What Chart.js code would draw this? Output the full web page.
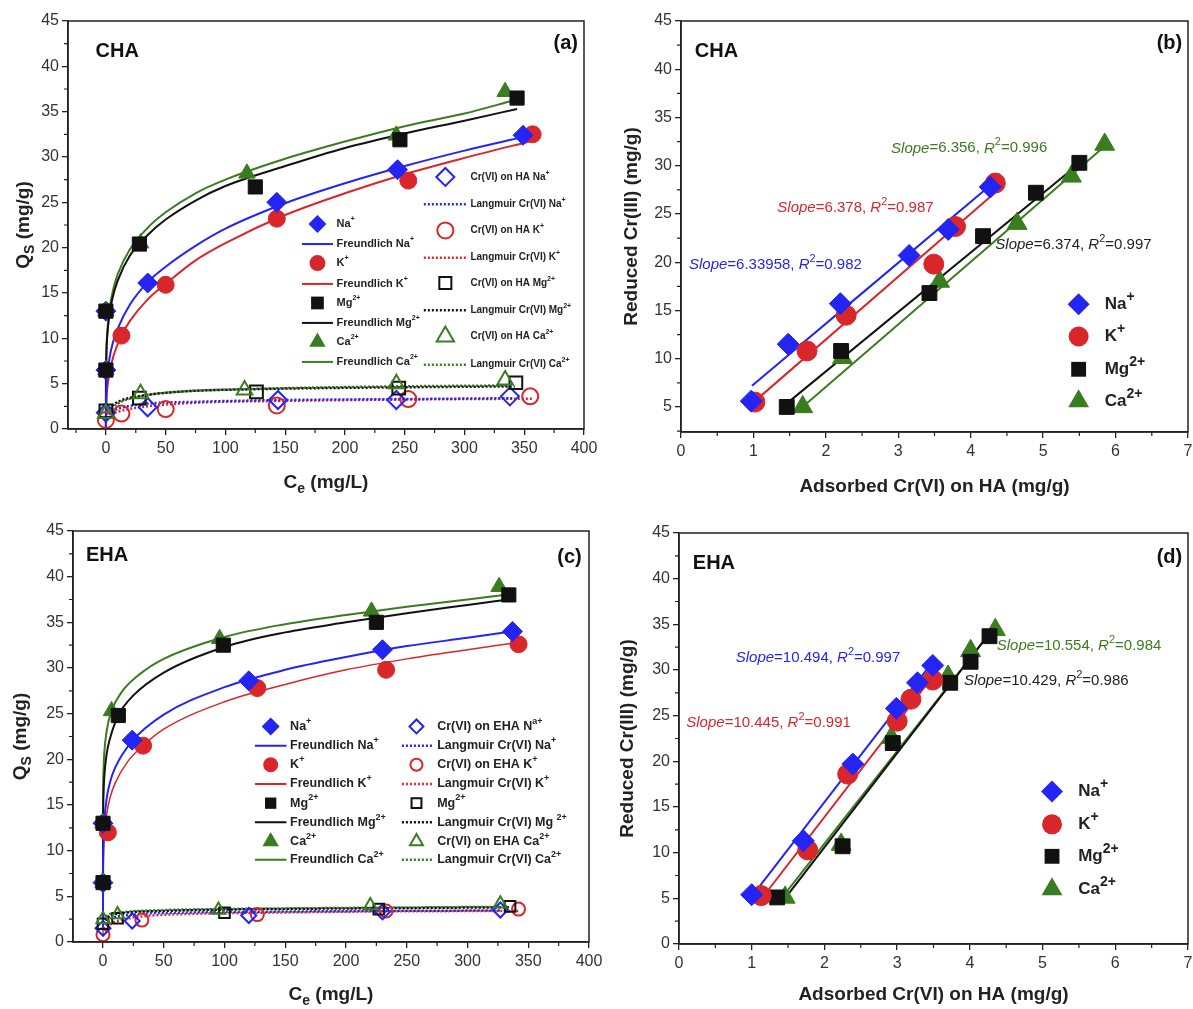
<!DOCTYPE html>
<html>
<head>
<meta charset="utf-8">
<script src="https://cdn.jsdelivr.net/npm/chart.js@4.4.0/dist/chart.umd.min.js"></script>
<style>
  body { margin: 0; background: #fff; }
  #wrap { position: relative; width: 1193px; height: 1009px; background: #fff; overflow: hidden; }
  canvas { position: absolute; }
</style>
</head>
<body>
<div id="wrap">
  <canvas id="cA" width="612" height="505" style="left:0;top:0"></canvas>
  <canvas id="cB" width="597" height="505" style="left:596px;top:0"></canvas>
  <canvas id="cC" width="612" height="504" style="left:0;top:505px"></canvas>
  <canvas id="cD" width="597" height="504" style="left:596px;top:505px"></canvas>
</div>
<script>
// ---------- data: panel (a) CHA isotherms ----------
const aNaCe = [0, 0, 35, 143, 244, 349],   aNaQs = [13, 6.5, 16.1, 25.0, 28.6, 32.4];
const aKCe  = [13, 50, 143, 253, 357],     aKQs  = [10.3, 15.9, 23.2, 27.4, 32.5];
const aMgCe = [0, 0, 28, 125, 246, 344],   aMgQs = [13, 6.5, 20.4, 26.7, 31.9, 36.5];
const aCaCe = [0, 0, 29, 118, 243, 334],   aCaQs = [13, 6.5, 20.5, 28.2, 32.4, 37.2];
const aNaCrCe = [0, 35, 144, 243, 338],      aNaCrQs = [1.8, 2.4, 3.2, 3.2, 3.6];
const aKCrCe  = [0, 13, 50, 143, 253, 355],  aKCrQs  = [1.0, 1.7, 2.2, 2.6, 3.3, 3.6];
const aMgCrCe = [0, 28, 126, 245, 343],      aMgCrQs = [2.0, 3.4, 4.1, 4.5, 5.1];
const aCaCrCe = [0, 29, 116, 243, 334],      aCaCrQs = [1.7, 3.9, 4.3, 5.0, 5.4];
// fitted curves
const aFrNaX = [0, 0.5, 1, 3, 6, 10, 20, 35, 50, 75, 100, 150, 200, 250, 300, 349];
const aFrNaY = [0, 4.5, 5.6, 7.8, 9.6, 11.1, 13.7, 16.2, 17.9, 20.2, 22.1, 24.9, 27.1, 29.0, 30.7, 32.2];
const aFrKX  = [0, 0.5, 1, 3, 6, 13, 20, 35, 50, 75, 100, 150, 200, 250, 300, 357];
const aFrKY  = [0, 3.4, 4.3, 6.2, 7.9, 10.3, 11.9, 14.3, 16.0, 18.6, 20.5, 23.6, 26.0, 28.1, 29.9, 31.8];
const aFrMgX = [0, 0.05, 0.2, 0.5, 1, 3, 6, 10, 20, 35, 50, 75, 100, 150, 200, 250, 300, 344];
const aFrMgY = [0, 5.2, 7.1, 8.6, 10.0, 12.7, 14.7, 16.4, 19.1, 21.4, 23.1, 25.2, 26.8, 29.0, 31.0, 32.6, 34.0, 35.3];
const aFrCaX = [0, 0.05, 0.2, 0.5, 1, 3, 6, 10, 20, 35, 50, 75, 100, 150, 200, 250, 300, 340];
const aFrCaY = [0, 5.5, 7.4, 9.0, 10.4, 13.2, 15.3, 17.1, 19.8, 22.2, 23.9, 26.0, 27.5, 29.8, 31.7, 33.4, 34.8, 36.2];
const aLaNaX = [0, 5, 15, 35, 75, 150, 250, 340], aLaNaY = [1.3, 1.9, 2.4, 2.8, 3.0, 3.2, 3.3, 3.4];
const aLaKX  = [0, 5, 13, 35, 75, 150, 250, 358], aLaKY  = [0.9, 1.6, 2.0, 2.5, 2.9, 3.1, 3.25, 3.35];
const aLaMgX = [0, 10, 27, 60, 128, 250, 342],    aLaMgY = [2.0, 3.0, 3.6, 4.1, 4.4, 4.6, 4.7];
const aLaCaX = [0, 10, 29, 60, 118, 243, 335],    aLaCaY = [1.6, 2.8, 3.6, 4.1, 4.4, 4.7, 4.8];

// ---------- data: panel (b) CHA reduced vs adsorbed ----------
const bNaX = [0.97, 1.48, 2.2, 3.15, 3.69, 4.27], bNaY = [5.6, 11.5, 15.7, 20.7, 23.4, 27.8];
const bKX  = [1.02, 1.74, 2.28, 3.49, 3.79, 4.34], bKY  = [5.5, 10.8, 14.5, 19.8, 23.7, 28.2];
const bMgX = [1.46, 2.21, 3.43, 4.17, 4.9, 5.5],  bMgY = [5.0, 10.8, 16.8, 22.7, 27.2, 30.3];
const bCaX = [1.68, 2.23, 3.57, 4.64, 5.39, 5.85], bCaY = [5.0, 10.1, 18.0, 24.0, 28.9, 32.2];
const bNaFitX = [0.98, 4.31], bNaFitY = [7.2, 28.2];
const bKFitX  = [1.02, 4.35], bKFitY  = [5.6, 27.3];
const bMgFitX = [1.5, 5.51],  bMgFitY = [5.6, 30.3];
const bCaFitX = [1.71, 5.83], bCaFitY = [5.2, 31.9];

// ---------- data: panel (c) EHA isotherms ----------
const cNaCe = [0, 0, 24, 120, 230, 337],     cNaQs = [13, 6.5, 22.1, 28.6, 32.0, 34.0];
const cKCe  = [4, 33, 127, 233, 342],        cKQs  = [12.0, 21.5, 27.8, 29.8, 32.6];
const cMgCe = [0, 0, 12.6, 99, 225, 334],    cMgQs = [13, 6.5, 24.8, 32.5, 35.0, 38.0];
const cCaCe = [0, 0, 7, 96, 221, 326],       cCaQs = [13, 6.5, 25.3, 33.2, 36.2, 38.9];
const cNaCrCe = [0, 24, 120, 230, 327],      cNaCrQs = [1.5, 2.3, 2.9, 3.3, 3.5];
const cKCrCe  = [0, 32, 127, 233, 342],      cKCrQs  = [0.8, 2.4, 3.0, 3.4, 3.6];
const cMgCrCe = [0, 12, 100, 227, 335],      cMgCrQs = [2.0, 2.6, 3.2, 3.6, 3.9];
const cCaCrCe = [0, 12, 95, 220, 327],       cCaCrQs = [2.5, 3.0, 3.5, 4.0, 4.2];
const cFrNaX = [0, 0.01, 0.1, 0.5, 1, 3, 6, 10, 24, 50, 100, 150, 200, 250, 300, 337];
const cFrNaY = [1.5, 6.2, 9.0, 11.7, 13.1, 15.7, 17.6, 19.1, 22.0, 24.9, 27.9, 29.8, 31.2, 32.4, 33.3, 34.0];
const cFrKX  = [0, 0.01, 0.1, 0.5, 1, 3, 6, 10, 20, 33, 50, 100, 150, 200, 250, 300, 342];
const cFrKY  = [1.0, 5.0, 7.6, 10.1, 11.5, 14.0, 15.9, 17.4, 19.7, 21.5, 23.3, 26.3, 28.2, 29.8, 31.0, 32.0, 32.8];
const cFrMgX = [0, 0.001, 0.01, 0.1, 0.5, 1, 3, 6, 12.6, 25, 50, 100, 150, 200, 250, 300, 334];
const cFrMgY = [2.0, 7.5, 10.0, 13.4, 16.5, 18.0, 20.6, 22.4, 24.8, 27.0, 29.5, 32.3, 33.9, 35.0, 36.0, 36.9, 37.5];
const cFrCaX = [0, 0.001, 0.01, 0.1, 0.5, 1, 3, 7, 15, 30, 50, 100, 150, 200, 250, 300, 330];
const cFrCaY = [2.5, 9.8, 12.6, 16.1, 19.1, 20.6, 23.1, 25.3, 27.3, 29.3, 31.0, 33.4, 34.8, 35.8, 36.7, 37.5, 38.0];
const cLaNaX = [0, 5, 24, 60, 120, 230, 327],      cLaNaY = [1.5, 2.4, 3.0, 3.2, 3.3, 3.4, 3.45];
const cLaKX  = [0, 5, 15, 32, 80, 127, 233, 342],  cLaKY  = [0.8, 1.8, 2.4, 2.8, 3.1, 3.2, 3.35, 3.4];
const cLaMgX = [0, 5, 12, 50, 100, 227, 335],      cLaMgY = [2.0, 2.8, 3.1, 3.4, 3.55, 3.7, 3.8];
const cLaCaX = [0, 5, 12, 50, 95, 220, 327],       cLaCaY = [2.5, 3.0, 3.2, 3.5, 3.6, 3.75, 3.85];

// ---------- data: panel (d) EHA reduced vs adsorbed ----------
const dNaX = [1.0, 1.71, 2.39, 2.99, 3.28, 3.49], dNaY = [5.4, 11.3, 19.7, 25.8, 28.6, 30.5];
const dKX  = [1.13, 1.77, 2.32, 3.0, 3.19, 3.49], dKY  = [5.3, 10.3, 18.6, 24.4, 26.8, 28.9];
const dMgX = [1.35, 2.25, 2.94, 3.73, 4.01, 4.27], dMgY = [5.1, 10.7, 22.0, 28.6, 30.9, 33.7];
const dCaX = [1.46, 2.23, 2.92, 3.7, 4.01, 4.35], dCaY = [5.1, 10.9, 22.6, 29.3, 32.1, 34.4];
const dNaFitX = [1.02, 3.49], dNaFitY = [5.4, 30.9];
const dKFitX  = [1.13, 3.49], dKFitY  = [4.9, 29.3];
const dMgFitX = [1.4, 4.3],   dMgFitY = [4.4, 34.3];
const dCaFitX = [1.36, 4.35], dCaFitY = [4.5, 34.8];

// ---------- tick labels ----------
const isoXTicks = [0, 50, 100, 150, 200, 250, 300, 350, 400];
const isoYTicks = [0, 5, 10, 15, 20, 25, 30, 35, 40, 45];
const redXTicks = [0, 1, 2, 3, 4, 5, 6, 7];
const redYTicksB = [5, 10, 15, 20, 25, 30, 35, 40, 45];
const redYTicksD = [0, 5, 10, 15, 20, 25, 30, 35, 40, 45];

// ---------- labels ----------
const ionLabels = ['Na^{+}', 'K^{+}', 'Mg^{2+}', 'Ca^{2+}'];
const aLegendLeft = ['Na^{+}', 'Freundlich Na^{+}', 'K^{+}', 'Freundlich K^{+}', 'Mg^{2+}', 'Freundlich Mg^{2+}', 'Ca^{2+}', 'Freundlich Ca^{2+}'];
const aLegendRight = ['Cr(VI) on HA Na^{+}', 'Langmuir Cr(VI) Na^{+}', 'Cr(VI) on HA K^{+}', 'Langmuir Cr(VI) K^{+}', 'Cr(VI) on HA Mg^{2+}', 'Langmuir Cr(VI) Mg^{2+}', 'Cr(VI) on HA Ca^{2+}', 'Langmuir Cr(VI) Ca^{2+}'];
const cLegendLeft = aLegendLeft;
const cLegendRight = ['Cr(VI) on EHA N^{a+}', 'Langmuir Cr(VI) Na^{+}', 'Cr(VI) on EHA K^{+}', 'Langmuir Cr(VI) K^{+}', 'Mg^{2+}', 'Langmuir Cr(VI) Mg ^{2+}', 'Cr(VI) on EHA Ca^{2+}', 'Langmuir Cr(VI) Ca^{2+}'];
const bSlopes = ['*Slope*=6.33958, *R*^{2}=0.982', '*Slope*=6.378, *R*^{2}=0.987', '*Slope*=6.374, *R*^{2}=0.997', '*Slope*=6.356, *R*^{2}=0.996'];
const dSlopes = ['*Slope*=10.494, *R*^{2}=0.997', '*Slope*=10.445, *R*^{2}=0.991', '*Slope*=10.429, *R*^{2}=0.986', '*Slope*=10.554, *R*^{2}=0.984'];

// ---------- styling ----------
const BLUE = '#2424f4', RED = '#d8262a', BLACK = '#111111', GREEN = '#3a7d1e';
const COLORS = [BLUE, RED, BLACK, GREEN];
const SHAPES = ['rectRot', 'circle', 'rect', 'triangle'];
const FAMILY = '"Liberation Sans", Arial, Helvetica, sans-serif';

function pts(xs, ys) { return xs.map((x, i) => ({ x: x, y: ys[i] })); }

function markerSet(xs, ys, k, filled, r, order) {
  return {
    data: pts(xs, ys), showLine: false, order: order,
    pointStyle: SHAPES[k], pointRadius: r, pointHoverRadius: r,
    pointBackgroundColor: filled ? COLORS[k] : 'rgba(255,255,255,0)',
    pointBorderColor: COLORS[k], pointBorderWidth: filled ? 1 : 2
  };
}
function lineSet(xs, ys, color, dash, width, order) {
  return {
    data: pts(xs, ys), showLine: true, order: order, pointRadius: 0,
    borderColor: color, borderWidth: width, borderDash: dash,
    cubicInterpolationMode: 'monotone', fill: false
  };
}

// rich text: *italic*, ^{sup}, _{sub}
function parseRich(str) {
  const out = []; let it = false, buf = '';
  const push = mode => { if (buf) out.push({ t: buf, mode: mode, it: it }); buf = ''; };
  for (let i = 0; i < str.length; i++) {
    const c = str[i];
    if (c === '*') { push('n'); it = !it; continue; }
    if ((c === '^' || c === '_') && str[i + 1] === '{') {
      push('n');
      const j = str.indexOf('}', i);
      buf = str.slice(i + 2, j);
      push(c === '^' ? 'sup' : 'sub');
      i = j; continue;
    }
    buf += c;
  }
  push('n');
  return out;
}
function rich(ctx, str, x, y, o) {
  const segs = parseRich(str);
  const wt = o.bold ? 'bold ' : '';
  const small = o.sup || 0.68;
  const fontFor = s => (s.it ? 'italic ' : '') + wt + (s.mode === 'n' ? o.size : Math.round(o.size * small)) + 'px ' + FAMILY;
  let total = 0;
  segs.forEach(s => { ctx.font = fontFor(s); s.w = ctx.measureText(s.t).width; total += s.w; });
  let cx = o.align === 'center' ? x - total / 2 : (o.align === 'right' ? x - total : x);
  ctx.fillStyle = o.color || '#222';
  ctx.textBaseline = 'middle'; ctx.textAlign = 'left';
  segs.forEach(s => {
    ctx.font = fontFor(s);
    const dy = s.mode === 'sup' ? -o.size * 0.42 : (s.mode === 'sub' ? o.size * 0.32 : 0);
    ctx.fillText(s.t, cx, y + dy);
    cx += s.w;
  });
}
function drawMarker(ctx, shape, x, y, r, color, filled) {
  ctx.save();
  ctx.beginPath();
  if (shape === 'circle') ctx.arc(x, y, r, 0, Math.PI * 2);
  else if (shape === 'rect') { const s = r * Math.SQRT1_2; ctx.rect(x - s, y - s, 2 * s, 2 * s); }
  else if (shape === 'rectRot') { ctx.moveTo(x - r, y); ctx.lineTo(x, y - r); ctx.lineTo(x + r, y); ctx.lineTo(x, y + r); ctx.closePath(); }
  else { ctx.moveTo(x, y - r); ctx.lineTo(x + r * 0.866, y + r * 0.5); ctx.lineTo(x - r * 0.866, y + r * 0.5); ctx.closePath(); }
  if (filled) { ctx.fillStyle = color; ctx.fill(); }
  else { ctx.strokeStyle = color; ctx.lineWidth = 2; ctx.stroke(); }
  ctx.restore();
}
function minors(ticks, lo, hi) {
  const out = [];
  const step = ticks[1] - ticks[0];
  for (let v = ticks[0] - step / 2; v <= hi; v += step) if (v >= lo) out.push(v);
  return out;
}

function extras(spec) {
  return {
    id: 'extras',
    afterDraw(chart) {
      const ctx = chart.ctx, a = chart.chartArea, sx = chart.scales.x, sy = chart.scales.y;
      ctx.save();
      ctx.strokeStyle = '#222'; ctx.lineWidth = 1.5;
      ctx.strokeRect(a.left, a.top, a.right - a.left, a.bottom - a.top);
      ctx.lineWidth = 1.2; ctx.beginPath();
      minors(spec.xTicks, sx.min, sx.max).forEach(v => { const p = sx.getPixelForValue(v); ctx.moveTo(p, a.bottom); ctx.lineTo(p, a.bottom + 4); });
      minors(spec.yTicks, sy.min, sy.max).forEach(v => { const p = sy.getPixelForValue(v); ctx.moveTo(a.left, p); ctx.lineTo(a.left - 4, p); });
      ctx.stroke();
      rich(ctx, spec.xTitle, (a.left + a.right) / 2, spec.xTitleY, { size: 19, bold: true, color: '#222', align: 'center', sup: 0.75 });
      ctx.save();
      ctx.translate(spec.yTitleX, (a.top + a.bottom) / 2);
      ctx.rotate(-Math.PI / 2);
      rich(ctx, spec.yTitle, 0, 0, { size: 19, bold: true, color: '#222', align: 'center', sup: 0.75 });
      ctx.restore();
      spec.texts.forEach(t => rich(ctx, t.s, sx.getPixelForValue(t.x), sy.getPixelForValue(t.y), t));
      spec.legend.forEach(e => {
        const py = sy.getPixelForValue(e.y);
        if (e.kind === 'marker') drawMarker(ctx, e.shape, sx.getPixelForValue(e.mx), py, e.r, e.color, e.filled);
        else {
          ctx.save(); ctx.strokeStyle = e.color; ctx.lineWidth = e.width; ctx.setLineDash(e.dash);
          ctx.beginPath(); ctx.moveTo(sx.getPixelForValue(e.x1), py); ctx.lineTo(sx.getPixelForValue(e.x2), py); ctx.stroke();
          ctx.restore();
        }
        rich(ctx, e.label, sx.getPixelForValue(e.tx), py, { size: e.size, bold: true, color: '#222', sup: e.sup || 0.68 });
      });
      ctx.restore();
    }
  };
}

function makeChart(id, spec, datasets) {
  const tickFont = { family: FAMILY, size: 16 };
  new Chart(document.getElementById(id), {
    type: 'scatter',
    data: { datasets: datasets },
    options: {
      responsive: false, animation: false, events: [],
      layout: { autoPadding: false, padding: { left: 0, top: spec.top, right: spec.right, bottom: 0 } },
      plugins: { legend: { display: false }, tooltip: { enabled: false } },
      scales: {
        x: {
          type: 'linear', min: spec.xMin, max: spec.xMax,
          afterBuildTicks: s => { s.ticks = spec.xTicks.map(v => ({ value: v })); },
          afterFit: s => { s.height = spec.xH; s.paddingLeft = 0; s.paddingRight = 0; },
          ticks: { font: tickFont, color: '#333', padding: 4, maxRotation: 0, autoSkip: false },
          grid: { drawOnChartArea: false, drawTicks: true, tickLength: 6, color: '#222', lineWidth: 1.3 },
          border: { display: true, color: '#222', width: 1.5 }
        },
        y: {
          type: 'linear', min: spec.yMin, max: spec.yMax,
          afterBuildTicks: s => { s.ticks = spec.yTicks.map(v => ({ value: v })); },
          afterFit: s => { s.width = spec.yW; s.paddingTop = 0; s.paddingBottom = 0; },
          ticks: { font: tickFont, color: '#333', padding: 3, autoSkip: false },
          grid: { drawOnChartArea: false, drawTicks: true, tickLength: 6, color: '#222', lineWidth: 1.3 },
          border: { display: true, color: '#222', width: 1.5 }
        }
      }
    },
    plugins: [extras(spec)]
  });
}

// legend builders for the isotherm panels
function isoLegend(left, right, lRows, rRows, geo) {
  const out = [];
  left.forEach((lab, i) => {
    const k = Math.floor(i / 2);
    if (i % 2 === 0) out.push({ kind: 'marker', shape: SHAPES[k], filled: true, color: COLORS[k], r: geo.fr[k], mx: geo.lm, y: lRows[i], tx: geo.lt, label: lab, size: geo.ls });
    else out.push({ kind: 'line', color: COLORS[k], width: 2, dash: [], x1: geo.l1, x2: geo.l2, y: lRows[i], tx: geo.lt, label: lab, size: geo.ls });
  });
  right.forEach((lab, i) => {
    const k = Math.floor(i / 2);
    if (i % 2 === 0) out.push({ kind: 'marker', shape: SHAPES[k], filled: false, color: COLORS[k], r: geo.or[k], mx: geo.rm, y: rRows[i], tx: geo.rt, label: lab, size: geo.rs });
    else out.push({ kind: 'line', color: COLORS[k], width: 2.5, dash: [2, 2], x1: geo.r1, x2: geo.r2, y: rRows[i], tx: geo.rt, label: lab, size: geo.rs });
  });
  return out;
}
function ionLegend(mx, tx, rows) {
  return ionLabels.map((lab, k) => ({ kind: 'marker', shape: SHAPES[k], filled: true, color: COLORS[k], r: [11, 10, 10.5, 12][k], mx: mx, y: rows[k], tx: tx, label: lab, size: 17, sup: 0.8 }));
}

// ---------- panel (a) ----------
makeChart('cA', {
  top: 21, right: 28, yW: 68, xH: 76,
  xMin: -31.7, xMax: 400, yMin: 0, yMax: 45, xTicks: isoXTicks, yTicks: isoYTicks,
  xTitle: 'C_{e} (mg/L)', xTitleY: 483, yTitle: 'Q_{S} (mg/g)', yTitleX: 24,
  texts: [
    { s: 'CHA', x: -8.7, y: 41.6, size: 20, bold: true, color: '#111' },
    { s: '(a)', x: 395, y: 42.5, size: 20, bold: true, color: '#111', align: 'right' }
  ],
  legend: isoLegend(aLegendLeft, aLegendRight,
    [22.6, 20.4, 18.3, 16.0, 13.9, 11.7, 9.6, 7.4], [27.8, 24.8, 21.9, 18.9, 16.1, 13.1, 10.2, 7.1],
    { lm: 177, lt: 193, l1: 164, l2: 190, rm: 284, rt: 305, r1: 266, r2: 302, ls: 11, rs: 10, fr: [9, 8, 9, 9.5], or: [9, 8, 8.5, 10] })
}, [
  markerSet(aMgCe, aMgQs, 2, true, 10, 0),
  markerSet(aCaCe, aCaQs, 3, true, 9.5, 1),
  markerSet(aNaCe, aNaQs, 0, true, 10, 2),
  markerSet(aKCe, aKQs, 1, true, 8.5, 3),
  markerSet(aCaCrCe, aCaCrQs, 3, false, 9, 4),
  markerSet(aMgCrCe, aMgCrQs, 2, false, 9, 5),
  markerSet(aNaCrCe, aNaCrQs, 0, false, 9, 6),
  markerSet(aKCrCe, aKCrQs, 1, false, 8, 7),
  lineSet(aFrNaX, aFrNaY, BLUE, [], 2, 8),
  lineSet(aFrKX, aFrKY, RED, [], 2, 9),
  lineSet(aFrMgX, aFrMgY, BLACK, [], 2, 10),
  lineSet(aFrCaX, aFrCaY, GREEN, [], 2, 11),
  lineSet(aLaNaX, aLaNaY, BLUE, [2, 2], 2.5, 12),
  lineSet(aLaKX, aLaKY, RED, [2, 2], 2.5, 13),
  lineSet(aLaMgX, aLaMgY, BLACK, [2, 2], 2.5, 14),
  lineSet(aLaCaX, aLaCaY, GREEN, [2, 2], 2.5, 15)
]);

// ---------- panel (b) ----------
makeChart('cB', {
  top: 21, right: 5, yW: 85, xH: 73,
  xMin: 0, xMax: 7, yMin: 2.4, yMax: 45, xTicks: redXTicks, yTicks: redYTicksB,
  xTitle: 'Adsorbed Cr(VI) on HA (mg/g)', xTitleY: 487, yTitle: 'Reduced Cr(III) (mg/g)', yTitleX: 36,
  texts: [
    { s: 'CHA', x: 0.19, y: 41.8, size: 20, bold: true, color: '#111' },
    { s: '(b)', x: 6.92, y: 42.7, size: 20, bold: true, color: '#111', align: 'right' },
    { s: bSlopes[0], x: 0.11, y: 19.7, size: 15, color: BLUE, sup: 0.75 },
    { s: bSlopes[1], x: 1.33, y: 25.6, size: 15, color: RED, sup: 0.75 },
    { s: bSlopes[2], x: 4.34, y: 21.8, size: 15, color: '#222', sup: 0.75 },
    { s: bSlopes[3], x: 2.9, y: 31.8, size: 15, color: GREEN, sup: 0.75 }
  ],
  legend: ionLegend(5.49, 5.85, [15.65, 12.3, 8.9, 5.6])
}, [
  markerSet(bNaX, bNaY, 0, true, 11, 0),
  markerSet(bKX, bKY, 1, true, 10, 1),
  markerSet(bMgX, bMgY, 2, true, 10.5, 2),
  markerSet(bCaX, bCaY, 3, true, 11.5, 3),
  lineSet(bNaFitX, bNaFitY, BLUE, [], 2, 4),
  lineSet(bKFitX, bKFitY, RED, [], 2, 5),
  lineSet(bMgFitX, bMgFitY, BLACK, [], 2, 6),
  lineSet(bCaFitX, bCaFitY, GREEN, [], 2, 7)
]);

// ---------- panel (c) ----------
makeChart('cC', {
  top: 26, right: 23, yW: 73, xH: 67,
  xMin: -24.7, xMax: 400, yMin: 0, yMax: 45, xTicks: isoXTicks, yTicks: isoYTicks,
  xTitle: 'C_{e} (mg/L)', xTitleY: 490, yTitle: 'Q_{S} (mg/g)', yTitleX: 21,
  texts: [
    { s: 'EHA', x: -14, y: 42.3, size: 20, bold: true, color: '#111' },
    { s: '(c)', x: 394, y: 42.1, size: 20, bold: true, color: '#111', align: 'right' }
  ],
  legend: isoLegend(cLegendLeft, cLegendRight,
    [23.6, 21.5, 19.4, 17.3, 15.2, 13.1, 11.0, 9.0], [23.6, 21.5, 19.4, 17.3, 15.2, 13.1, 11.0, 9.0],
    { lm: 138, lt: 154, l1: 125, l2: 151, rm: 258, rt: 275, r1: 246, r2: 271, ls: 12.5, rs: 12.5, fr: [9, 7.5, 8, 9.5], or: [7, 6, 7, 7.5] })
}, [
  markerSet(cMgCe, cMgQs, 2, true, 10, 0),
  markerSet(cCaCe, cCaQs, 3, true, 9.5, 1),
  markerSet(cNaCe, cNaQs, 0, true, 10, 2),
  markerSet(cKCe, cKQs, 1, true, 8.5, 3),
  markerSet(cCaCrCe, cCaCrQs, 3, false, 7.5, 4),
  markerSet(cMgCrCe, cMgCrQs, 2, false, 7.5, 5),
  markerSet(cNaCrCe, cNaCrQs, 0, false, 7.5, 6),
  markerSet(cKCrCe, cKCrQs, 1, false, 6.5, 7),
  lineSet(cFrNaX, cFrNaY, BLUE, [], 2, 8),
  lineSet(cFrKX, cFrKY, RED, [], 1.5, 9),
  lineSet(cFrMgX, cFrMgY, BLACK, [], 2, 10),
  lineSet(cFrCaX, cFrCaY, GREEN, [], 2, 11),
  lineSet(cLaNaX, cLaNaY, BLUE, [2, 2], 2.5, 12),
  lineSet(cLaKX, cLaKY, RED, [2, 2], 2.5, 13),
  lineSet(cLaMgX, cLaMgY, BLACK, [2, 2], 2.5, 14),
  lineSet(cLaCaX, cLaCaY, GREEN, [2, 2], 2.5, 15)
]);

// ---------- panel (d) ----------
makeChart('cD', {
  top: 28, right: 5, yW: 83, xH: 65,
  xMin: 0, xMax: 7, yMin: 0, yMax: 45, xTicks: redXTicks, yTicks: redYTicksD,
  xTitle: 'Adsorbed Cr(VI) on HA (mg/g)', xTitleY: 490, yTitle: 'Reduced Cr(III) (mg/g)', yTitleX: 32,
  texts: [
    { s: 'EHA', x: 0.19, y: 41.7, size: 20, bold: true, color: '#111' },
    { s: '(d)', x: 6.92, y: 42.3, size: 20, bold: true, color: '#111', align: 'right' },
    { s: dSlopes[0], x: 0.78, y: 31.3, size: 15, color: BLUE, sup: 0.75 },
    { s: dSlopes[1], x: 0.10, y: 24.2, size: 15, color: RED, sup: 0.75 },
    { s: dSlopes[2], x: 3.92, y: 28.8, size: 15, color: '#222', sup: 0.75 },
    { s: dSlopes[3], x: 4.37, y: 32.6, size: 15, color: GREEN, sup: 0.75 }
  ],
  legend: ionLegend(5.13, 5.49, [16.7, 13.1, 9.6, 6.0])
}, [
  markerSet(dNaX, dNaY, 0, true, 11, 0),
  markerSet(dKX, dKY, 1, true, 10, 1),
  markerSet(dMgX, dMgY, 2, true, 10.5, 2),
  markerSet(dCaX, dCaY, 3, true, 11.5, 3),
  lineSet(dNaFitX, dNaFitY, BLUE, [], 2, 4),
  lineSet(dKFitX, dKFitY, RED, [], 2, 5),
  lineSet(dMgFitX, dMgFitY, BLACK, [], 2, 6),
  lineSet(dCaFitX, dCaFitY, GREEN, [], 2, 7)
]);
</script>
</body>
</html>
